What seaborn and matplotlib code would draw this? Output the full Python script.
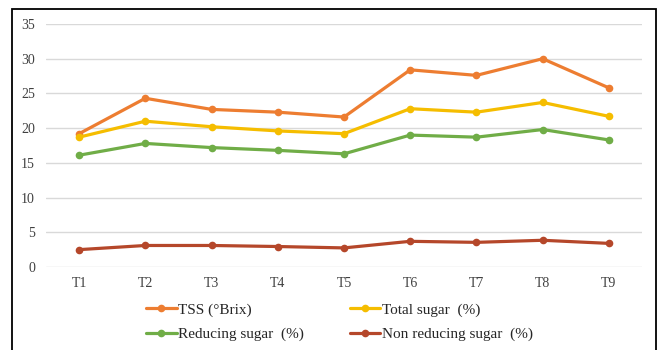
import matplotlib
matplotlib.use("Agg")
import matplotlib.pyplot as plt
from matplotlib.patches import Rectangle
import pandas as pd
import seaborn as sns

treatments = ["T1", "T2", "T3", "T4", "T5", "T6", "T7", "T8", "T9"]
tss = [19.2, 24.3, 22.7, 22.3, 21.6, 28.4, 27.6, 30.0, 25.8]
total_sugar = [18.7, 21.0, 20.2, 19.6, 19.2, 22.8, 22.3, 23.7, 21.7]
reducing_sugar = [16.1, 17.8, 17.2, 16.8, 16.3, 19.0, 18.7, 19.8, 18.3]
non_reducing_sugar = [2.5, 3.1, 3.1, 2.95, 2.75, 3.7, 3.55, 3.85, 3.4]

series_names = ["TSS (°Brix)", "Total sugar  (%)", "Reducing sugar  (%)", "Non reducing sugar  (%)"]
series_values = [tss, total_sugar, reducing_sugar, non_reducing_sugar]
colors = ["#ED7D31", "#F5BD00", "#70AD47", "#B5472A"]

df = pd.DataFrame(
    [(t, name, v) for name, vals in zip(series_names, series_values) for t, v in zip(treatments, vals)],
    columns=["Treatment", "Parameter", "Value"],
)

sns.set_theme(style="white")
plt.rcParams["font.family"] = ["Liberation Serif", "DejaVu Serif"]

fig = plt.figure(figsize=(6.6, 3.5), dpi=100)
ax = fig.add_axes([46 / 660, 1 - 267 / 350, (642 - 46) / 660, (267 - 24) / 350])

sns.lineplot(
    data=df, x="Treatment", y="Value", hue="Parameter",
    hue_order=series_names, palette=dict(zip(series_names, colors)),
    marker="o", markersize=5.5, markeredgewidth=0, linewidth=2.3,
    sort=False, ax=ax, legend=True,
)

ax.set_xlim(-0.5, len(treatments) - 0.5)
ax.set_ylim(0, 35)
ax.set_yticks(range(0, 36, 5))
ax.yaxis.grid(True, color="#D9D9D9", linewidth=1)
ax.xaxis.grid(False)
for s in ax.spines.values():
    s.set_visible(False)
ax.set_xlabel("")
ax.set_ylabel("")
ax.tick_params(axis="both", length=0, labelsize=10, labelcolor="#404040")
ax.tick_params(axis="y", pad=8)
ax.tick_params(axis="x", pad=7)

handles, labels = ax.get_legend_handles_labels()
ax.get_legend().remove()
lookup = dict(zip(labels, handles))
order = [series_names[0], series_names[2], series_names[1], series_names[3]]
fig.legend(
    [lookup[n] for n in order], order,
    ncol=2, loc="upper left", bbox_to_anchor=(146 / 660, 1 - 303 / 350),
    frameon=False, fontsize=11, handlelength=2.0, handletextpad=0.1,
    columnspacing=3.0, labelspacing=0.7, borderpad=0, borderaxespad=0,
)

# outer frame, open at the bottom edge
fig.patches.append(Rectangle((12 / 660, -0.05), (656 - 12) / 660, 1.05 - 9 / 350,
                             transform=fig.transFigure, fill=False,
                             edgecolor="black", linewidth=1.3))

fig.savefig("out.png", dpi=100, facecolor="white")
